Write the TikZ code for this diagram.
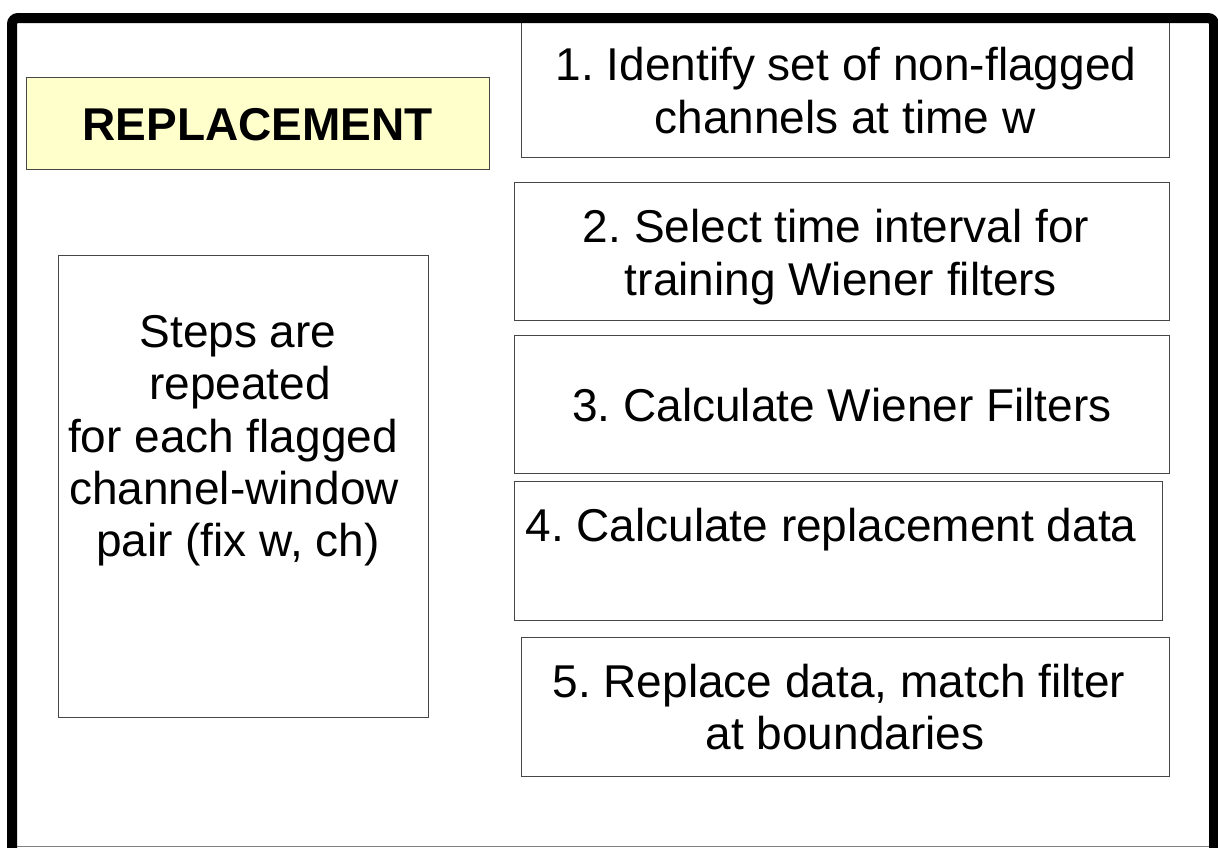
\documentclass[tikz,border=0pt]{standalone}
\usepackage{fontspec}
\setmainfont{Liberation Sans}
\frenchspacing
\definecolor{boxline}{RGB}{70,70,70}
\definecolor{paleyellow}{RGB}{255,255,204}
\begin{document}
\begin{tikzpicture}[x=1pt,y=-1pt,
  stepbox/.style={draw=boxline,line width=1pt,fill=white},
  txt/.style={anchor=base,inner sep=0pt,font=\fontsize{46}{52}\selectfont\frenchspacing}]
\useasboundingbox (0,0) rectangle (1218,847);
\clip (0,0) rectangle (1218,847);
\fill[white] (0,0) rectangle (1218,847);
% boxes
\draw[stepbox,fill=paleyellow] (26,77) rectangle (489,169);
\draw[stepbox] (58,255) rectangle (428,717);
\draw[stepbox] (521,20) rectangle (1169,157);
\draw[stepbox] (514,182) rectangle (1169,320);
\draw[stepbox] (514,335) rectangle (1169,473);
\draw[stepbox] (514,481) rectangle (1162,620);
\draw[stepbox] (521,637) rectangle (1169,776);
\node[anchor=center,inner sep=0pt,font=\fontsize{46}{52}\selectfont\bfseries] (replace) at (257.5,125) {REPLACEMENT};
% texts
\node[txt] (t1a) at (846,80) {1. Identify set of non-flagged};
\node[txt] (t1b) at (845,133) {channels at time w};
\node[txt] (t2a) at (836,242) {2. Select time interval for};
\node[txt] (t2b) at (841,295) {training Wiener filters};
\node[txt] (t3) at (842,421) {3. Calculate Wiener Filters};
\node[txt] (t4) at (831,541) {4. Calculate replacement data};
\node[txt] (t5a) at (839,697) {5. Replace data, match filter};
\node[txt] (t5b) at (845,749) {at boundaries};
\node[txt] (s1) at (238,347) {Steps are};
\node[txt] (s2) at (240,399) {repeated};
\node[txt] (s3) at (233,452) {for each flagged};
\node[txt] (s4) at (234,504) {channel-window};
\node[txt] (s5) at (238,556) {pair (fix w, ch)};
% frame
\draw[gray,line width=1pt] (17,846) -- (1210,846);
\draw[black,line width=10pt,rounded corners=6pt] (12,900) -- (12,18) -- (1214,18) -- (1214,900);
\end{tikzpicture}
\end{document}
